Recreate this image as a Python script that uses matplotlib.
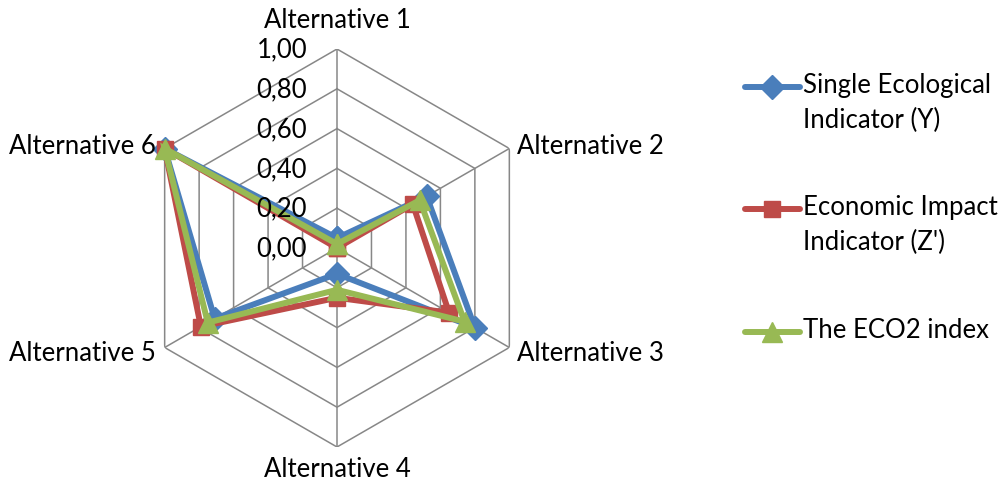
import numpy as np
import matplotlib.pyplot as plt
from matplotlib.lines import Line2D

plt.rcParams['font.family'] = ['Lato', 'DejaVu Sans']

categories = ['Alternative 1', 'Alternative 2', 'Alternative 3',
              'Alternative 4', 'Alternative 5', 'Alternative 6']
eco_y = [0.05, 0.52, 0.80, 0.13, 0.71, 1.00]
econ_z = [0.00, 0.44, 0.65, 0.25, 0.79, 1.00]
eco2 = [0.02, 0.48, 0.74, 0.21, 0.75, 1.00]
ring_values = [0.2, 0.4, 0.6, 0.8, 1.0]
tick_labels = ['0,00', '0,20', '0,40', '0,60', '0,80', '1,00']

series = [
    ('Single Ecological\nIndicator (Y)', eco_y, '#4A7EBB', 'D', 12),
    ("Economic Impact\nIndicator (Z')", econ_z, '#BE4B48', 's', 12),
    ('The ECO2 index', eco2, '#98B954', '^', 14),
]

FS = 18.5
W, H = 1003, 485
fig = plt.figure(figsize=(W / 100, H / 100), dpi=100)
cx, cy, R = 337, 249, 199
ax = fig.add_axes([(cx - R) / W, (H - cy - R) / H, 2 * R / W, 2 * R / H],
                  projection='polar')
ax.set_theta_zero_location('N')
ax.set_theta_direction(-1)
ax.set_ylim(0, 1)
ax.grid(False)
ax.spines['polar'].set_visible(False)
ax.set_xticks([])
ax.set_yticks([])
ax.patch.set_alpha(0)

n = len(categories)
theta = np.arange(n) * 2 * np.pi / n
closed = np.append(theta, theta[0])

# hexagonal rings and spokes
for r in ring_values:
    ax.plot(closed, [r] * (n + 1), color='#878787', lw=1.1, zorder=1)
for t in theta:
    ax.plot([t, t], [0, 1], color='#878787', lw=1.1, zorder=1)

for label, vals, color, marker, ms in series:
    v = np.append(vals, vals[0])
    ax.plot(closed, v, color=color, lw=4.3, marker=marker, ms=ms,
            solid_joinstyle='miter', zorder=3, clip_on=False)

# radial value labels along the top spoke
for i, lab in enumerate(tick_labels):
    y = cy - i * 0.2 * R
    fig.text((cx - 30) / W, 1 - y / H, lab, ha='right', va='center', fontsize=FS)

# category labels
pos = [(cx, 20, 'center'), (517, 146, 'left'), (517, 354, 'left'),
       (cx, 470, 'center'), (156, 354, 'right'), (156, 146, 'right')]
for name, (x, y, ha) in zip(categories, pos):
    fig.text(x / W, 1 - y / H, name, ha=ha, va='center', fontsize=FS)

# legend
leg_y = [88, 210, 333]
for (label, vals, color, marker, ms), y in zip(series, leg_y):
    fig.add_artist(Line2D([745 / W, 800 / W], [1 - y / H] * 2, color=color,
                          lw=4.3, solid_capstyle='round',
                          transform=fig.transFigure))
    fig.add_artist(Line2D([772 / W], [1 - y / H], color=color, marker=marker,
                          ms=ms, transform=fig.transFigure))
    for k, line in enumerate(label.split('\n')):
        fig.text(803 / W, 1 - (y - 3 + 35 * k) / H, line, ha='left',
                 va='center', fontsize=FS)

fig.savefig('out.png', dpi=100)
